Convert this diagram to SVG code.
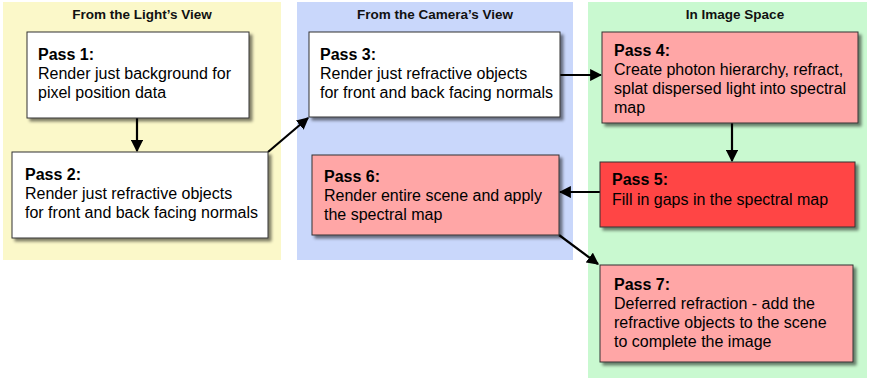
<svg xmlns="http://www.w3.org/2000/svg" width="869" height="379" viewBox="0 0 869 379">
<style>
.hdr{font-family:"Liberation Sans",Arial,sans-serif;font-size:13.5px;font-weight:bold;fill:#111;text-anchor:middle}
.t{font-family:"Liberation Sans",Arial,sans-serif;font-size:16px;fill:#000}
.b{font-weight:bold}
.box{stroke:#333;stroke-width:1;filter:url(#sh)}
.w{fill:#fff}.p{fill:#ffa6a6}.r{fill:#ff4444}
.c{stroke:#000;stroke-width:2.2;fill:none;marker-end:url(#ah)}
</style>
<defs>
<filter id="sh" x="-10%" y="-10%" width="130%" height="140%">
<feGaussianBlur in="SourceAlpha" stdDeviation="1.5"/>
<feOffset dx="2.5" dy="3" result="o"/>
<feComponentTransfer><feFuncA type="linear" slope="0.5"/></feComponentTransfer>
<feMerge><feMergeNode/><feMergeNode in="SourceGraphic"/></feMerge>
</filter>
<marker id="ah" viewBox="0 0 10 10" refX="9" refY="5" markerWidth="5.5" markerHeight="5.5" orient="auto" markerUnits="strokeWidth">
<path d="M0,0 L10,5 L0,10 z" fill="#000"/>
</marker>
</defs>
<rect width="869" height="379" fill="#fff"/>
<g id="panels">
<rect x="3" y="2" width="278" height="258" fill="#fbf8c9"/>
<rect x="297" y="2" width="276" height="258" fill="#c9d7fb"/>
<rect x="588" y="2" width="279" height="376" fill="#c9f9d0"/>
<text class="hdr" x="142" y="19">From the Light’s View</text>
<text class="hdr" x="435" y="19">From the Camera’s View</text>
<text class="hdr" x="735" y="19">In Image Space</text>
</g>
<g id="connectors">
<line class="c" x1="137" y1="118" x2="137" y2="151"/>
<line class="c" x1="268" y1="152" x2="308" y2="118"/>
<line class="c" x1="560" y1="75" x2="601" y2="75"/>
<line class="c" x1="732" y1="123" x2="732" y2="161"/>
<line class="c" x1="600" y1="192" x2="560" y2="192"/>
<line class="c" x1="559" y1="235" x2="598" y2="264"/>
</g>
<g id="pass1">
<rect class="box w" x="27" y="32" width="222" height="86"/>
<text class="t" x="38" y="60"><tspan class="b">Pass 1:</tspan><tspan x="38" dy="19">Render just background for</tspan><tspan x="38" dy="19">pixel position data</tspan></text>
</g>
<g id="pass2">
<rect class="box w" x="12" y="152" width="256" height="86"/>
<text class="t" x="25" y="180"><tspan class="b">Pass 2:</tspan><tspan x="25" dy="19">Render just refractive objects</tspan><tspan x="25" dy="19">for front and back facing normals</tspan></text>
</g>
<g id="pass3">
<rect class="box w" x="309" y="32" width="251" height="85"/>
<text class="t" x="320" y="60"><tspan class="b">Pass 3:</tspan><tspan x="320" dy="19">Render just refractive objects</tspan><tspan x="320" dy="19">for front and back facing normals</tspan></text>
</g>
<g id="pass4">
<rect class="box p" x="602" y="32" width="256" height="91"/>
<text class="t" x="614" y="56"><tspan class="b">Pass 4:</tspan><tspan x="614" dy="19">Create photon hierarchy, refract,</tspan><tspan x="614" dy="19">splat dispersed light into spectral</tspan><tspan x="614" dy="19">map</tspan></text>
</g>
<g id="pass5">
<rect class="box r" x="600" y="162" width="255" height="65"/>
<text class="t" x="612" y="185"><tspan class="b">Pass 5:</tspan><tspan x="612" dy="20">Fill in gaps in the spectral map</tspan></text>
</g>
<g id="pass6">
<rect class="box p" x="312" y="155" width="247" height="80"/>
<text class="t" x="324" y="182"><tspan class="b">Pass 6:</tspan><tspan x="324" dy="19">Render entire scene and apply</tspan><tspan x="324" dy="19">the spectral map</tspan></text>
</g>
<g id="pass7">
<rect class="box p" x="600" y="265" width="253" height="97"/>
<text class="t" x="614" y="290"><tspan class="b">Pass 7:</tspan><tspan x="614" dy="19">Deferred refraction - add the</tspan><tspan x="614" dy="19">refractive objects to the scene</tspan><tspan x="614" dy="19">to complete the image</tspan></text>
</g>
</svg>
